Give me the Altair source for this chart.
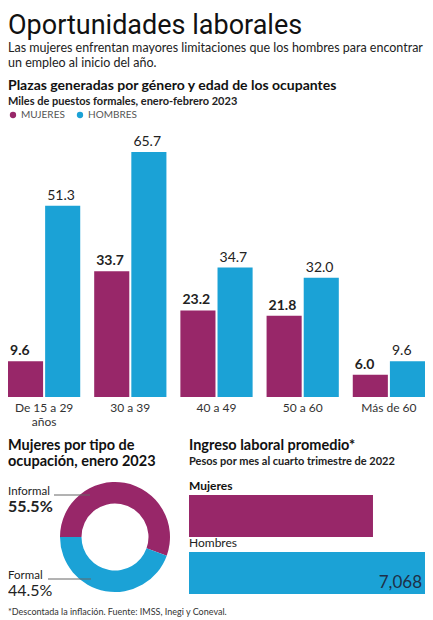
import math
import altair as alt
import pandas as pd

# ---------------- data ----------------
edades = ["De 15 a 29 años", "30 a 39", "40 a 49", "50 a 60", "Más de 60"]
mujeres = [9.6, 33.7, 23.2, 21.8, 6.0]
hombres = [51.3, 65.7, 34.7, 32.0, 9.6]
generos = ["MUJERES", "HOMBRES"]

tipos = ["Informal", "Formal"]
porcentajes = [55.5, 44.5]

ingreso_generos = ["Mujeres", "Hombres"]
ingreso = [5510, 7068]

MAG = "#982769"
BLU = "#1ba2d6"
FONT = "Lato"
HEAD = "Roboto"

# ---------------- bar chart ----------------
df = pd.DataFrame({
    "edad": edades * 2,
    "genero": [generos[0]] * len(edades) + [generos[1]] * len(edades),
    "valor": mujeres + hombres,
})
df["etiqueta"] = df["valor"].map(lambda v: f"{v:.1f}")

label_expr = ("datum.value == 'De 15 a 29 años' ? ['De 15 a 29', 'años'] : datum.value")

base = alt.Chart(df).encode(
    x=alt.X("edad:N", sort=edades,
            scale=alt.Scale(paddingInner=0.162, paddingOuter=0),
            axis=alt.Axis(title=None, domain=False, ticks=False, labelAngle=0,
                          labelPadding=5, labelFontSize=12, labelFont=FONT,
                          labelColor="#333", labelExpr=label_expr,
                          labelLineHeight=14)),
    xOffset=alt.XOffset("genero:N", sort=generos,
                        scale=alt.Scale(paddingInner=0.055, paddingOuter=0)),
    y=alt.Y("valor:Q", scale=alt.Scale(domain=[0, 70]), axis=None),
)

bars = base.mark_bar().encode(
    color=alt.Color("genero:N",
                    scale=alt.Scale(domain=generos, range=[MAG, BLU]),
                    legend=alt.Legend(title=None, orient="none", legendX=0, legendY=-26,
                                      direction="horizontal", symbolType="circle",
                                      symbolSize=40, symbolStrokeWidth=0,
                                      labelFontSize=10, labelFont=FONT,
                                      labelColor="#555", columnPadding=10,
                                      labelOffset=3, padding=0))
)

txt_m = base.transform_filter(alt.datum.genero == generos[0]).mark_text(
    align="left", baseline="bottom", dx=-15.5, dy=-3, fontSize=14,
    fontWeight="bold", font=FONT, color="#222"
).encode(text="etiqueta:N")

txt_h = base.transform_filter(alt.datum.genero == generos[1]).mark_text(
    align="left", baseline="bottom", dx=-15.5, dy=-3, fontSize=14,
    fontWeight="normal", font=FONT, color="#222"
).encode(text="etiqueta:N")

bar_chart = alt.layer(bars, txt_m, txt_h).properties(
    width=417, height=261,
    title=alt.TitleParams(
        text="Plazas generadas por género y edad de los ocupantes",
        subtitle="Miles de puestos formales, enero-febrero 2023",
        anchor="start", font=FONT, fontSize=14, fontWeight="bold", color="#111",
        subtitleFont=FONT, subtitleFontSize=11, subtitleFontWeight="bold",
        subtitleColor="#222", subtitlePadding=3, offset=3),
)

# ---------------- donut ----------------
dd = pd.DataFrame({"tipo": tipos, "pct": porcentajes})
dd["pct_txt"] = dd["pct"].map(lambda v: f"{v:.1f}%")

start = 1.5 * math.pi
arc = alt.Chart(dd).mark_arc(outerRadius=55, innerRadius=33.5).encode(
    theta=alt.Theta("pct:Q", stack=True,
                    scale=alt.Scale(domain=[0, 100], range=[start, start + 2 * math.pi])),
    color=alt.Color("tipo:N", scale=alt.Scale(domain=tipos, range=[MAG, BLU]), legend=None),
    order=alt.Order("tipo:N", sort="descending"),
    x=alt.value(107), y=alt.value(42),
)

def donut_label(tipo, y_name, y_pct, pct_weight, x1, x2, y_line):
    src = alt.Chart(dd).transform_filter(alt.datum.tipo == tipo)
    name = src.mark_text(align="left", baseline="middle", fontSize=11.5, font=FONT,
                         color="#222").encode(text="tipo:N", x=alt.value(0), y=alt.value(y_name))
    pct = src.mark_text(align="left", baseline="middle", fontSize=16, font=FONT,
                        fontWeight=pct_weight, color="#222").encode(
        text="pct_txt:N", x=alt.value(0), y=alt.value(y_pct))
    line = src.mark_rule(color="#666", strokeWidth=1).encode(
        x=alt.value(x1), x2=alt.value(x2), y=alt.value(y_line))
    return [name, pct, line]

donut = alt.layer(
    arc,
    *donut_label("Informal", -3, 12, "bold", 46, 82, 0),
    *donut_label("Formal", 81, 96, "normal", 40, 83, 84),
).properties(
    width=173, height=99,
    title=alt.TitleParams(
        text=["Mujeres por tipo de", "ocupación, enero 2023"],
        anchor="start", font=FONT, fontSize=14.5, fontWeight="bold", color="#111",
        lineHeight=16, offset=13),
)

# ---------------- horizontal bars ----------------
di = pd.DataFrame({"g": ingreso_generos, "v": ingreso})
di["v_txt"] = di["v"].map(lambda v: f"{v:,}")

xscale = alt.Scale(domain=[0, 7068], nice=False)
hbase = alt.Chart(di).encode(
    y=alt.Y("g:N", sort=ingreso_generos, axis=None,
            scale=alt.Scale(paddingInner=0.26, paddingOuter=0)),
)
hbars = hbase.mark_bar().encode(
    x=alt.X("v:Q", scale=xscale, axis=None),
    color=alt.Color("g:N", scale=alt.Scale(domain=ingreso_generos, range=[MAG, BLU]), legend=None),
)
lab_m = hbase.transform_filter(alt.datum.g == "Mujeres").mark_text(
    align="left", baseline="bottom", dy=-23, fontSize=12, font=FONT,
    fontWeight="bold", color="#111").encode(text="g:N", x=alt.value(0))
lab_h = hbase.transform_filter(alt.datum.g == "Hombres").mark_text(
    align="left", baseline="bottom", dy=-23, fontSize=12, font=FONT,
    fontWeight="normal", color="#222").encode(text="g:N", x=alt.value(0))
val_h = hbase.transform_filter(alt.datum.g == "Hombres").mark_text(
    align="right", baseline="bottom", dx=-3, dy=19, fontSize=17, font=FONT,
    color="#1e3048").encode(text="v_txt:N", x=alt.X("v:Q", scale=xscale, axis=None))

hchart = alt.layer(hbars, lab_m, lab_h, val_h).properties(
    width=236, height=99,
    title=alt.TitleParams(
        text="Ingreso laboral promedio*",
        subtitle="Pesos por mes al cuarto trimestre de 2022",
        anchor="start", font=FONT, fontSize=14.5, fontWeight="bold", color="#111",
        subtitleFont=FONT, subtitleFontSize=11, subtitleFontWeight="bold",
        subtitleColor="#222", subtitlePadding=3, offset=12),
)

bottom = alt.hconcat(donut, hchart, spacing=8).resolve_scale(color="independent").properties(
    title=alt.TitleParams(
        text="*Descontada la inflación. Fuente: IMSS, Inegi y Coneval.",
        orient="bottom", anchor="start", font=FONT, fontSize=9,
        fontWeight="normal", color="#333", offset=9),
)

chart = alt.vconcat(bar_chart, bottom, spacing=10).resolve_scale(color="independent").properties(
    padding={"top": 3, "left": 0, "right": 0, "bottom": 0},
    background="white",
    title=alt.TitleParams(
        text="Oportunidades laborales",
        subtitle=["Las mujeres enfrentan mayores limitaciones que los hombres para encontrar",
                  "un empleo al inicio del año."],
        anchor="start", font=HEAD, fontSize=27, fontWeight="normal", color="#111",
        subtitleFont=FONT, subtitleFontSize=12.5, subtitleColor="#222",
        subtitleLineHeight=15, subtitlePadding=2, offset=9),
).configure_view(stroke=None)

chart.save("out.html", embed_options={"renderer": "svg", "actions": False})
